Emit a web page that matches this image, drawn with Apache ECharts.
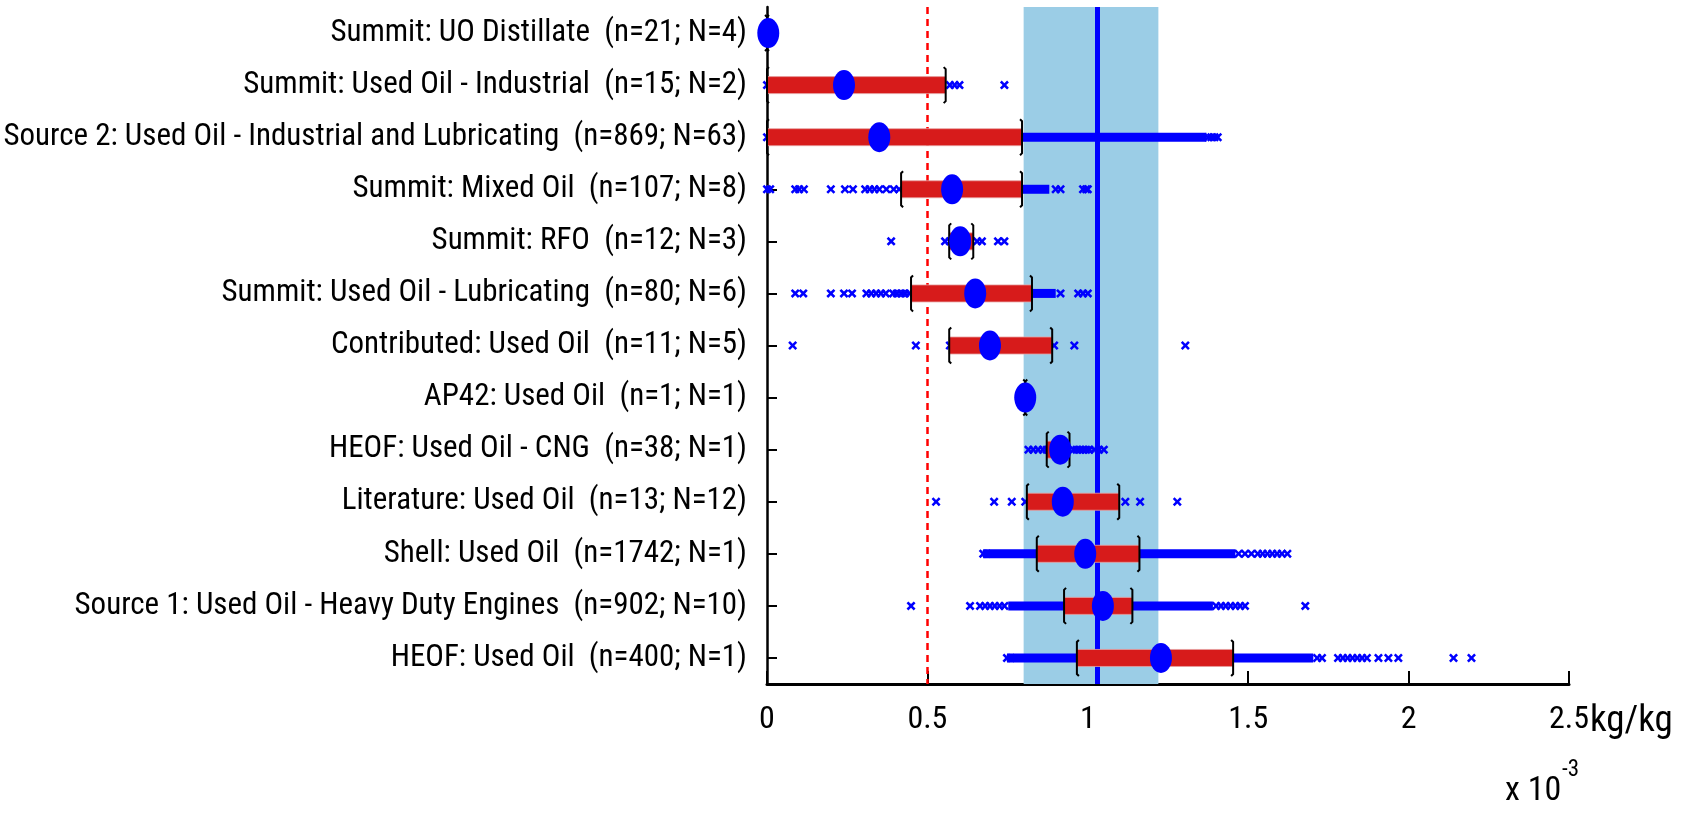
<!DOCTYPE html>
<html>
<head>
<meta charset="utf-8">
<script src="https://cdn.jsdelivr.net/npm/echarts@6/dist/echarts.min.js"></script>
<style>
html,body{margin:0;padding:0;background:#fff;}
#chart{width:1681px;height:814px;}
</style>
</head>
<body>
<div id="chart"></div>
<script>
// ---------- DATA (values in units of 1e-3 kg/kg) ----------
const categories = [
  "Summit: UO Distillate  (n=21; N=4)",
  "Summit: Used Oil - Industrial  (n=15; N=2)",
  "Source 2: Used Oil - Industrial and Lubricating  (n=869; N=63)",
  "Summit: Mixed Oil  (n=107; N=8)",
  "Summit: RFO  (n=12; N=3)",
  "Summit: Used Oil - Lubricating  (n=80; N=6)",
  "Contributed: Used Oil  (n=11; N=5)",
  "AP42: Used Oil  (n=1; N=1)",
  "HEOF: Used Oil - CNG  (n=38; N=1)",
  "Literature: Used Oil  (n=13; N=12)",
  "Shell: Used Oil  (n=1742; N=1)",
  "Source 1: Used Oil - Heavy Duty Engines  (n=902; N=10)",
  "HEOF: Used Oil  (n=400; N=1)"
];
const means = [0.004, 0.24, 0.35, 0.577, 0.602, 0.649, 0.695, 0.805, 0.914, 0.922, 0.992, 1.047, 1.228];
const pLow  = [0, 0, 0, 0.418, 0.568, 0.449, 0.568, 0.805, 0.872, 0.81, 0.841, 0.926, 0.966];
const pHigh = [0, 0.557, 0.795, 0.795, 0.643, 0.826, 0.889, 0.805, 0.943, 1.098, 1.161, 1.139, 1.453];
const outliers = [
  [],
  [0, 0.57, 0.585, 0.6, 0.74],
  [0, 1.375, 1.385, 1.395, 1.405],
  [0, 0.01, 0.088, 0.1, 0.115, 0.199, 0.243, 0.268, 0.306, 0.32, 0.335, 0.35, 0.372, 0.395, 0.412, 0.9, 0.915, 0.985, 0.995, 1.0],
  [0.387, 0.555, 0.57, 0.655, 0.67, 0.72, 0.74],
  [0.088, 0.113, 0.199, 0.24, 0.265, 0.31, 0.325, 0.34, 0.355, 0.37, 0.393, 0.405, 0.418, 0.43, 0.443, 0.915, 0.97, 0.985, 1.0],
  [0.08, 0.464, 0.57, 0.895, 0.958, 1.304],
  [],
  [0.815, 0.83, 0.845, 0.86, 0.872, 0.955, 0.965, 0.975, 0.985, 0.995, 1.005, 1.02, 1.035, 1.05],
  [0.527, 0.708, 0.763, 0.805, 1.117, 1.163, 1.279],
  [0.674, 0.685, 1.47, 1.49, 1.51, 1.53, 1.545, 1.56, 1.575, 1.59, 1.605, 1.622],
  [0.449, 0.633, 0.664, 0.68, 0.695, 0.71, 0.725, 0.74, 1.40, 1.415, 1.43, 1.445, 1.46, 1.475, 1.49, 1.678],
  [0.748, 0.76, 1.715, 1.73, 1.78, 1.795, 1.81, 1.825, 1.84, 1.855, 1.87, 1.906, 1.937, 1.968, 2.14, 2.196]
];
// runs of densely packed outliers: [rowIndex, from, to]
const outlierRuns = [
  [2, 0.795, 1.37],
  [3, 0.795, 0.88],
  [5, 0.826, 0.9],
  [10, 0.674, 0.841], [10, 1.161, 1.46],
  [11, 0.752, 0.926], [11, 1.139, 1.39],
  [12, 0.748, 0.966], [12, 1.453, 1.703]
];
const bandLow = 0.8, bandHigh = 1.22;
const refValue = 1.03;
const limitValue = 0.5;
const xMin = 0, xMax = 2.5, xStep = 0.5;

// ---------- CHART ----------
const FONT = '"Liberation Sans Narrow", "Arial Narrow", "Roboto Condensed", "Liberation Sans", sans-serif';
const chart = echarts.init(document.getElementById('chart'), null, {renderer: 'canvas'});

const crossData = [];
outliers.forEach((arr, i) => arr.forEach(v => crossData.push([v, i])));
const barData = categories.map((c, i) => [i, pLow[i], pHigh[i]]);
const meanData = means.map((v, i) => [v, i]);

const CROSS = 'path://M0,2L2,0L5,3L8,0L10,2L7,5L10,8L8,10L5,7L2,10L0,8L3,5Z';
const ELLIPSE = 'path://M0,15A11,15 0 1,1 22,15A11,15 0 1,1 0,15Z';

const option = {
  backgroundColor: '#ffffff',
  animation: false,
  grid: {left: 767, right: 112, top: 7, bottom: 130, containLabel: false},
  xAxis: {
    type: 'value', min: xMin, max: xMax, interval: xStep,
    axisLine: {show: true, lineStyle: {color: '#000', width: 3}},
    axisTick: {show: true, inside: true, length: 13, lineStyle: {color: '#000', width: 2}},
    splitLine: {show: false},
    axisLabel: {color: '#000', fontSize: 32, fontFamily: FONT, margin: 20,
      formatter: v => String(+v.toFixed(1))}
  },
  yAxis: {
    type: 'category', data: categories, inverse: true,
    axisLine: {show: true, lineStyle: {color: '#000', width: 2.5}},
    axisTick: {show: true, inside: true, length: 10, alignWithLabel: true, lineStyle: {color: '#000', width: 2}},
    splitLine: {show: false},
    axisLabel: {color: '#000', fontSize: 31, fontFamily: FONT, margin: 20}
  },
  graphic: [
    {type: 'text', x: 1590, y: 722, z: 10, style: {text: 'kg/kg', font: '37px ' + FONT, fill: '#000', align: 'left', verticalAlign: 'middle'}},
    {type: 'text', x: 1505, y: 791, z: 10, style: {text: 'x 10', font: '34px ' + FONT, fill: '#000', align: 'left', verticalAlign: 'middle'}},
    {type: 'text', x: 1562, y: 770, z: 10, style: {text: '-3', font: '23px ' + FONT, fill: '#000', align: 'left', verticalAlign: 'middle'}}
  ],
  series: [
    { // shaded band
      type: 'scatter', data: [], z: 1, silent: true,
      markArea: {silent: true, itemStyle: {color: '#9bcde6', opacity: 1}, data: [[{xAxis: bandLow}, {xAxis: bandHigh}]]}
    },
    { // limit (red dashed)
      type: 'scatter', data: [], z: 2, silent: true,
      markLine: {silent: true, symbol: 'none', label: {show: false},
        lineStyle: {color: '#ff0000', width: 2.5, type: [7, 5], opacity: 1},
        data: [{xAxis: limitValue}]}
    },
    { // dense outlier runs
      type: 'custom', z: 3, silent: true,
      data: outlierRuns,
      encode: {x: [1, 2], y: 0},
      renderItem: (params, api) => {
        const a = api.coord([api.value(1), api.value(0)]);
        const b = api.coord([api.value(2), api.value(0)]);
        return {type: 'rect', shape: {x: a[0], y: a[1] - 4.5, width: b[0] - a[0], height: 9}, style: {fill: '#0000ff'}};
      }
    },
    { // individual outliers
      type: 'scatter', z: 4, silent: true,
      symbol: CROSS, symbolSize: [9, 9],
      itemStyle: {color: '#0000ff', opacity: 1},
      data: crossData
    },
    { // percentile bars + whisker caps
      type: 'custom', z: 5, silent: true,
      data: barData,
      encode: {x: [1, 2], y: 0},
      renderItem: (params, api) => {
        const a = api.coord([api.value(1), api.value(0)]);
        const b = api.coord([api.value(2), api.value(0)]);
        const children = [];
        if (b[0] - a[0] > 0.5) {
          children.push({type: 'rect', shape: {x: a[0], y: a[1] - 8.5, width: b[0] - a[0], height: 17},
            style: {fill: '#d71b1b', stroke: '#e6a0a0', lineWidth: 0.8}});
        }
        [a[0], b[0]].forEach((x, k) => {
          const d = k === 0 ? 2 : -2;
          children.push({type: 'polyline', shape: {points: [[x + d, a[1] - 18], [x, a[1] - 16], [x, a[1] + 16], [x + d, a[1] + 18]]},
            style: {stroke: '#000', lineWidth: 2, fill: null}});
        });
        return {type: 'group', children};
      }
    },
    { // reference line
      type: 'scatter', data: [], z: 6, silent: true,
      markLine: {silent: true, symbol: 'none', label: {show: false},
        lineStyle: {color: '#0000ff', width: 5, type: 'solid', opacity: 1},
        data: [{xAxis: refValue}]}
    },
    { // means
      type: 'scatter', z: 7, silent: true,
      symbol: ELLIPSE, symbolSize: [22, 30],
      itemStyle: {color: '#0000ff', opacity: 1},
      data: meanData
    }
  ]
};
chart.setOption(option);
</script>
</body>
</html>
